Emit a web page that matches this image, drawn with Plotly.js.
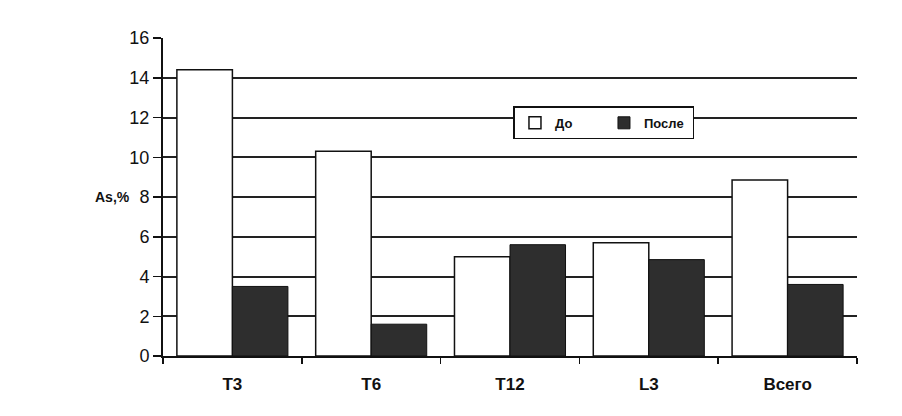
<!DOCTYPE html>
<html>
<head>
<meta charset="utf-8">
<script src="https://cdn.plot.ly/plotly-3.0.1.min.js"></script>
<style>html,body{margin:0;padding:0;background:#fff;}#chart{width:902px;height:416px;}</style>
</head>
<body>
<div id="chart"></div>
<script>
var categories = ["T3", "T6", "T12", "L3", "Всего"];
var beforeValues = [14.4, 10.3, 5.0, 5.7, 8.85];
var afterValues = [3.5, 1.6, 5.6, 4.85, 3.6];
var yTicks = [0, 2, 4, 6, 8, 10, 12, 14, 16];

var traces = [
  {
    type: "bar", name: "До", x: categories, y: beforeValues,
    marker: {color: "#ffffff", line: {color: "#111111", width: 1.5}}
  },
  {
    type: "bar", name: "После", x: categories, y: afterValues,
    marker: {color: "#2e2e2e", line: {color: "#111111", width: 1}}
  }
];

var layout = {
  width: 902, height: 416,
  margin: {l: 163, r: 45, t: 38, b: 60},
  paper_bgcolor: "#ffffff", plot_bgcolor: "#ffffff",
  font: {family: "Liberation Sans, Arial, sans-serif", color: "#111111"},
  barmode: "group", bargap: 0.2, bargroupgap: 0,
  showlegend: true,
  legend: {
    x: 0.505, y: 0.785, xanchor: "left", yanchor: "top",
    orientation: "h", bgcolor: "#ffffff", bordercolor: "#111111", borderwidth: 1.5,
    font: {size: 13, family: "Liberation Sans, Arial, sans-serif", weight: "bold"},
    itemwidth: 30, entrywidth: 44, tracegroupgap: 0
  },
  xaxis: {
    type: "category",
    showline: true, linecolor: "#111111", linewidth: 2,
    ticks: "outside", tickson: "boundaries", ticklen: 6, tickcolor: "#111111", tickwidth: 1.5,
    tickfont: {size: 17, weight: "bold"}, ticklabelstandoff: 12,
    showgrid: false, zeroline: false
  },
  yaxis: {
    range: [0, 16], tickvals: yTicks, ticktext: yTicks.map(String),
    showline: true, linecolor: "#111111", linewidth: 2,
    ticks: "outside", ticklen: 8, tickcolor: "#111111", tickwidth: 1.5,
    tickfont: {size: 18},
    showgrid: true, gridcolor: "#222222", gridwidth: 2,
    zeroline: false
  },
  annotations: [
    {
      text: "As,%", xref: "paper", yref: "paper", x: -0.045, y: 0.5,
      xanchor: "right", yanchor: "middle", showarrow: false,
      font: {size: 14, weight: "bold"}
    }
  ]
};

Plotly.newPlot("chart", traces, layout, {staticPlot: true});
</script>
</body>
</html>
